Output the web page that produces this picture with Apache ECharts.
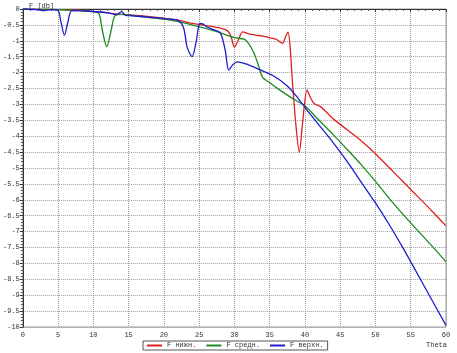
<!DOCTYPE html>
<html>
<head>
<meta charset="utf-8">
<script src="https://cdn.jsdelivr.net/npm/echarts@6/dist/echarts.min.js"></script>
<style>
    html, body { margin: 0; padding: 0; background: #fff; }
    #main { width: 457px; height: 353px; }
</style>
</head>
<body>
<div id="main"></div>
<script>
    // F нижн.
    const lowX = [0, 2, 5, 8, 10, 12, 14, 16, 18, 20, 22, 24, 26, 28, 29, 29.5, 30, 30.5, 31.2, 32, 33, 34, 35, 36, 36.8, 37.3, 37.6, 37.9, 38.2, 38.7, 39.2, 39.7, 40.3, 40.8, 41.3, 42.2, 44, 46, 48, 50, 52, 54, 56, 58, 60];
    const lowY = [0, -0.01, -0.02, -0.04, -0.08, -0.12, -0.17, -0.2, -0.24, -0.29, -0.35, -0.45, -0.52, -0.6, -0.68, -0.85, -1.2, -1.0, -0.72, -0.78, -0.82, -0.85, -0.9, -0.96, -1.08, -0.85, -0.73, -1.2, -2.2, -3.6, -4.5, -3.5, -2.55, -2.8, -2.97, -3.07, -3.45, -3.8, -4.15, -4.55, -5.0, -5.45, -5.9, -6.35, -6.82];

    // F средн.
    const midX = [0, 2, 5, 8, 10, 10.8, 11.3, 11.9, 12.5, 13.1, 14, 16, 18, 20, 22, 24, 26, 28, 30, 31.4, 32, 32.7, 33.3, 34, 35, 36, 38, 40, 42, 44, 46, 48, 50, 52, 54, 56, 58, 60];
    const midY = [0, -0.01, -0.02, -0.05, -0.08, -0.15, -0.7, -1.18, -0.7, -0.2, -0.17, -0.22, -0.27, -0.32, -0.4, -0.5, -0.62, -0.75, -0.9, -0.95, -1.08, -1.35, -1.7, -2.15, -2.32, -2.48, -2.78, -3.05, -3.5, -3.95, -4.42, -4.9, -5.42, -5.97, -6.48, -6.97, -7.45, -7.95];

    // F верхн.
    const highX = [0, 2, 3, 4, 5, 5.4, 5.9, 6.4, 6.9, 8, 10, 12, 13.3, 14, 14.6, 16, 18, 20, 22, 22.8, 23.3, 24, 24.6, 25.1, 25.5, 26, 27, 28, 28.7, 29.2, 29.8, 30.4, 31.5, 33.5, 35.5, 37.5, 39, 40.3, 42, 44, 46, 48, 50, 52, 54, 55, 56, 58, 60];
    const highY = [0, -0.02, -0.05, -0.02, -0.05, -0.4, -0.82, -0.4, -0.06, -0.05, -0.08, -0.12, -0.18, -0.08, -0.2, -0.22, -0.26, -0.3, -0.36, -0.6, -1.2, -1.5, -1.0, -0.45, -0.47, -0.55, -0.65, -0.75, -1.3, -1.92, -1.75, -1.66, -1.72, -1.9, -2.1, -2.42, -2.8, -3.18, -3.65, -4.2, -4.8, -5.45, -6.1, -6.8, -7.55, -7.95, -8.35, -9.15, -9.95];

    const seriesNames = ['F нижн.', 'F средн.', 'F верхн.'];
    const seriesColors = ['#e02020', '#1f8a1f', '#1c1cd0'];

    function pairs(xs, ys) {
        return xs.map(function (x, i) { return [x, ys[i]]; });
    }

    const font = 'Liberation Mono';
    const chart = echarts.init(document.getElementById('main'));

    const option = {
        animation: false,
        backgroundColor: '#fff',
        title: [
            { text: 'F [db]', left: 24, top: -2, textStyle: { fontSize: 7, fontWeight: 'normal', fontFamily: font, color: '#333' } },
            { text: 'Theta', left: 421, top: 337, textStyle: { fontSize: 7, fontWeight: 'normal', fontFamily: font, color: '#333' } }
        ],
        grid: { left: 21, right: 11, top: 9, bottom: 26, show: true, borderColor: '#999', borderWidth: 1 },
        legend: {
            data: seriesNames,
            left: 143,
            top: 341,
            icon: 'rect',
            itemWidth: 15,
            itemHeight: 2,
            itemGap: 10,
            padding: [1, 4, 1, 4],
            borderColor: '#555',
            borderWidth: 1,
            textStyle: { fontSize: 7, fontFamily: font, color: '#333' }
        },
        xAxis: {
            type: 'value',
            min: 0,
            max: 60,
            interval: 5,
            axisLine: { lineStyle: { color: '#333' } },
            axisTick: { length: 3, lineStyle: { color: '#333' } },
            minorTick: { show: true, splitNumber: 5, length: 2, lineStyle: { color: '#555' } },
            axisLabel: { fontSize: 7, fontFamily: font, color: '#333', margin: 5 },
            splitLine: { show: true, lineStyle: { type: 'dotted', color: '#999' } }
        },
        yAxis: {
            type: 'value',
            min: -10,
            max: 0,
            interval: 0.5,
            axisLine: { show: true, lineStyle: { color: '#333' } },
            axisTick: { show: true, length: 3, lineStyle: { color: '#333' } },
            minorTick: { show: true, splitNumber: 5, length: 2, lineStyle: { color: '#555' } },
            axisLabel: { fontSize: 7, fontFamily: font, color: '#333', margin: 3 },
            splitLine: { show: true, lineStyle: { type: 'dotted', color: '#999' } }
        },
        series: [
            { name: seriesNames[0], type: 'line', data: pairs(lowX, lowY), smooth: 0.3, showSymbol: false, lineStyle: { width: 1.3 }, color: seriesColors[0] },
            { name: seriesNames[1], type: 'line', data: pairs(midX, midY), smooth: 0.3, showSymbol: false, lineStyle: { width: 1.3 }, color: seriesColors[1] },
            { name: seriesNames[2], type: 'line', data: pairs(highX, highY), smooth: 0.3, showSymbol: false, lineStyle: { width: 1.3 }, color: seriesColors[2] }
        ]
    };
    chart.setOption(option);
</script>
</body>
</html>
